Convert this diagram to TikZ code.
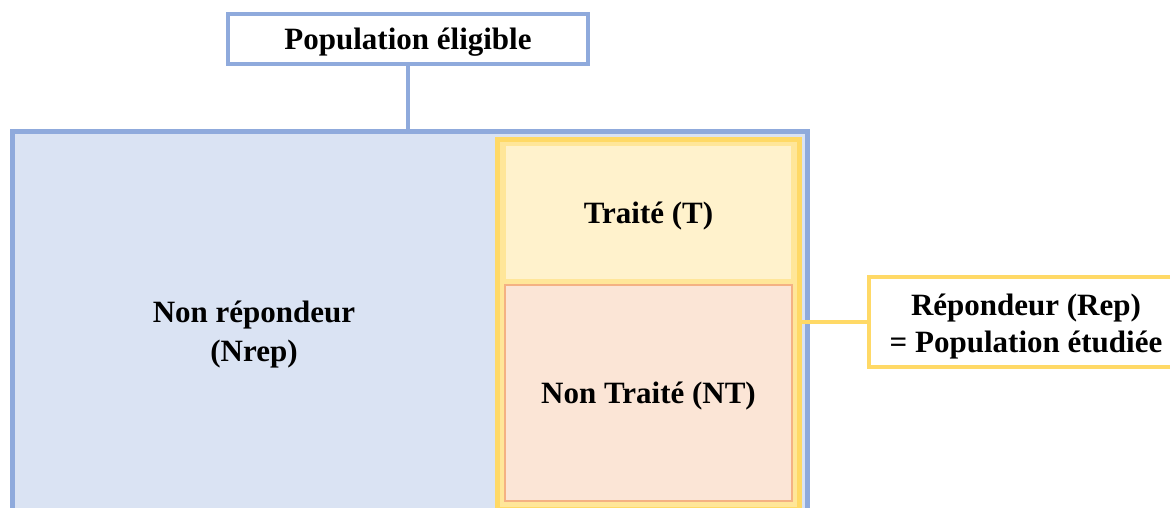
\documentclass[tikz,border=0pt]{standalone}
\usepackage{fontspec}
\setmainfont{Liberation Serif}
\definecolor{blueline}{HTML}{8FAADC}
\definecolor{bluefill}{HTML}{DAE3F3}
\definecolor{yeldark}{HTML}{FFD966}
\definecolor{yellight}{HTML}{FFE699}
\definecolor{yelfill}{HTML}{FFF2CC}
\definecolor{orfill}{HTML}{FBE5D6}
\definecolor{orline}{HTML}{F4B183}
\newcommand\twolines[3]{{\fontsize{31}{#1}\selectfont\renewcommand\arraystretch{1}\begin{tabular}[b]{@{}c@{}}#2\\#3\end{tabular}}}
\tikzset{
  box/.style={rectangle, inner sep=0pt, outer sep=0pt, align=center,
    text height=21pt, text depth=0pt,
    font=\fontsize{31}{36}\selectfont\bfseries},
}
\begin{document}
\begin{tikzpicture}[x=1pt,y=-1pt]
\useasboundingbox (0,0) rectangle (1170,508);
\clip (0,0) rectangle (1170,508);
% top box
\node[box, draw=blueline, line width=3.5pt, fill=white, minimum width=360pt, minimum height=50pt, text height=22pt] (elig) at (408,39) {Population éligible};
% big blue region
\node[box, draw=blueline, line width=5pt, fill=bluefill, minimum width=795pt, minimum height=388pt] (pop) at (409.5,326) {};
\node[box, text height=35pt] (nrep) at (254,343.5) {\twolines{39}{Non répondeur}{(Nrep)}};
% yellow frame
\node[box, draw=yeldark, line width=5pt, fill=yellight, minimum width=302pt, minimum height=369pt] (frame) at (648,324.5) {};
\node[box, draw=yellight, line width=1.5pt, fill=yelfill, minimum width=287pt, minimum height=135pt] (T) at (648.5,212.5) {Traité (T)};
\node[box, draw=orline, line width=1.5pt, fill=orfill, minimum width=287pt, minimum height=216pt, text height=20pt] (NT) at (648.5,393) {Non Traité (NT)};
% right box
\node[box, draw=yeldark, line width=3.5pt, fill=white, minimum width=314pt, minimum height=90pt, text height=60pt] (rep) at (1026,322) {\twolines{37}{Répondeur (Rep)}{= Population étudiée}};
% connectors
\draw[blueline, line width=3.5pt] (elig.south) -- (elig.south |- pop.north);
\draw[yeldark, line width=3.5pt] (frame.east |- rep.west) -- (rep.west);
\end{tikzpicture}
\end{document}
